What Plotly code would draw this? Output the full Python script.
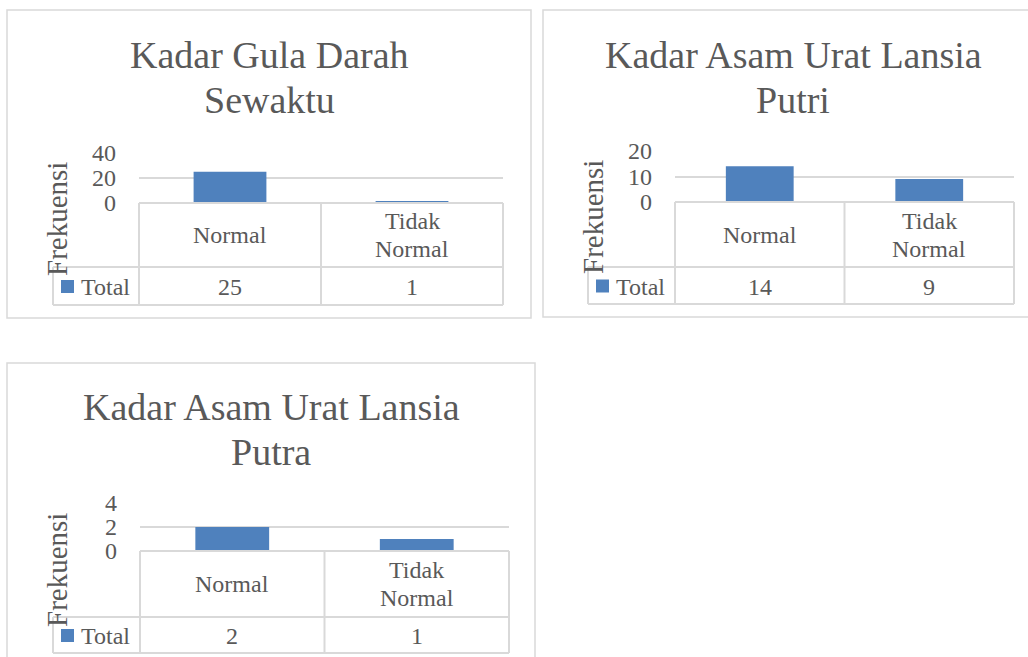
import plotly.graph_objects as go

# ---------------- data ----------------
categories = ["Normal", "Tidak Normal"]
series_name = "Total"
y_title = "Frekuensi"

titles = ["Kadar Gula Darah<br>Sewaktu",
          "Kadar Asam Urat Lansia<br>Putri",
          "Kadar Asam Urat Lansia<br>Putra"]
gula_darah = [25, 1]
asam_urat_putri = [14, 9]
asam_urat_putra = [2, 1]
values = [gula_darah, asam_urat_putri, asam_urat_putra]
y_ticks = [[0, 20, 40], [0, 10, 20], [0, 2, 4]]

# ---------------- layout (pixels) ----------------
W, H = 1028, 657
FONT = "Liberation Serif"
TXT = "#595959"
GRID = "#d9d9d9"
BAR = "#4f81bd"

def X(px):
    return px / W

def Y(py):
    return 1 - py / H

panels = [
    dict(box=(7, 10, 531, 318), plot_x=(139, 503), y0=203, ytop=153, row=267, bottom=305,
         leg_left=53, title_c=(269, 55), freq=(57, 219)),
    dict(box=(543, 10, 1032, 317), plot_x=(675, 1014), y0=202, ytop=151, row=267, bottom=304,
         leg_left=588, title_c=(793, 55), freq=(593, 217)),
    dict(box=(7, 363, 535, 662), plot_x=(140, 509), y0=551, ytop=503, row=617, bottom=653,
         leg_left=53, title_c=(271, 407), freq=(57, 570)),
]
TITLE_LINE = 45
CAT_LINE = 28

fig = go.Figure()
shapes = []
annotations = []

for i, (p, vals, ticks, title) in enumerate(zip(panels, values, y_ticks, titles)):
    n = "" if i == 0 else str(i + 1)
    xa, ya = "x" + n, "y" + n
    fig.add_trace(go.Bar(x=categories, y=vals, name=series_name, marker_color=BAR,
                         marker_line_width=0, xaxis=xa, yaxis=ya, showlegend=False,
                         hoverinfo="x+y"))
    x0p, x1p = p["plot_x"]
    fig.layout["xaxis" + n] = dict(domain=[X(x0p), X(x1p)], anchor=ya, showticklabels=False,
                                   showgrid=False, showline=False, zeroline=False, automargin=False,
                                   range=[-0.5, len(categories) - 0.5], fixedrange=True)
    fig.layout["yaxis" + n] = dict(domain=[Y(p["y0"]), Y(p["ytop"])], anchor=xa,
                                   range=[ticks[0], ticks[-1]], tickvals=ticks,
                                   showgrid=True, gridcolor=GRID, gridwidth=1.5,
                                   zeroline=False, showline=False, ticks="", automargin=False,
                                   ticklabelstandoff=22,
                                   tickfont=dict(family=FONT, size=24, color=TXT),
                                   fixedrange=True)

    # chart border
    bx0, by0, bx1, by1 = p["box"]
    shapes.append(dict(type="rect", xref="paper", yref="paper", x0=X(bx0), x1=X(bx1),
                       y0=Y(by0), y1=Y(by1), line=dict(color=GRID, width=1.5), layer="below"))

    # data table lines
    ncat = len(categories)
    col_w = (x1p - x0p) / ncat
    ln = dict(color=GRID, width=2)
    shapes.append(dict(type="line", xref="paper", yref="paper", x0=X(x0p), x1=X(x1p),
                       y0=Y(p["y0"]), y1=Y(p["y0"]), line=ln))
    for yy in (p["row"], p["bottom"]):
        shapes.append(dict(type="line", xref="paper", yref="paper", x0=X(p["leg_left"]), x1=X(x1p),
                           y0=Y(yy), y1=Y(yy), line=ln))
    for k in range(ncat + 1):
        xx = x0p + k * col_w
        shapes.append(dict(type="line", xref="paper", yref="paper", x0=X(xx), x1=X(xx),
                           y0=Y(p["y0"]), y1=Y(p["bottom"]), line=ln))
    shapes.append(dict(type="line", xref="paper", yref="paper", x0=X(p["leg_left"]), x1=X(p["leg_left"]),
                       y0=Y(p["row"]), y1=Y(p["bottom"]), line=ln))

    # legend key
    row_c = (p["row"] + p["bottom"]) / 2
    kx = p["leg_left"] + 8
    shapes.append(dict(type="rect", xref="paper", yref="paper", x0=X(kx), x1=X(kx + 13),
                       y0=Y(row_c - 6), y1=Y(row_c + 7), fillcolor=BAR, line=dict(width=0)))
    annotations.append(dict(xref="paper", yref="paper", x=X(kx + 18), y=Y(row_c + 1),
                            xanchor="left", yanchor="middle", showarrow=False, text=series_name,
                            font=dict(family=FONT, size=24, color=TXT)))

    # table cells
    cat_c = (p["y0"] + p["row"]) / 2
    for c, v in zip(categories, vals):
        words = c.split(" ")
        for j, w in enumerate(words):
            yy = cat_c + (j - (len(words) - 1) / 2) * CAT_LINE
            annotations.append(dict(xref=xa, yref="paper", x=c, y=Y(yy), xanchor="center",
                                    yanchor="middle", showarrow=False, text=w,
                                    font=dict(family=FONT, size=24, color=TXT)))
        annotations.append(dict(xref=xa, yref="paper", x=c, y=Y(row_c + 1), xanchor="center",
                                yanchor="middle", showarrow=False, text=str(v),
                                font=dict(family=FONT, size=24, color=TXT)))

    # title (two lines)
    for j, line in enumerate(title.split("<br>")):
        annotations.append(dict(xref="paper", yref="paper", x=X(p["title_c"][0]),
                                y=Y(p["title_c"][1] + j * TITLE_LINE),
                                xanchor="center", yanchor="middle", showarrow=False, text=line,
                                font=dict(family=FONT, size=38, color=TXT)))
    # y-axis title
    annotations.append(dict(xref="paper", yref="paper", x=X(p["freq"][0]), y=Y(p["freq"][1]),
                            xanchor="center", yanchor="middle", showarrow=False, text=y_title,
                            textangle=-90, font=dict(family=FONT, size=29, color=TXT)))

fig.update_layout(width=W, height=H, margin=dict(l=0, r=0, t=0, b=0, autoexpand=False),
                  paper_bgcolor="white", plot_bgcolor="white", bargap=0.6,
                  shapes=shapes, annotations=annotations, showlegend=False)

post = (
    "document.documentElement.style.cssText='margin:0;padding:0;width:1028px;height:657px;overflow:hidden';"
    "document.body.style.cssText='margin:0;padding:0;width:1028px;height:657px;overflow:hidden';"
    "var d=document.getElementById('{plot_id}');"
    "d.style.position='absolute';d.style.left='0px';d.style.top='0px';"
)
fig.write_html("out.html", config={"displayModeBar": False, "responsive": False}, post_script=post)
